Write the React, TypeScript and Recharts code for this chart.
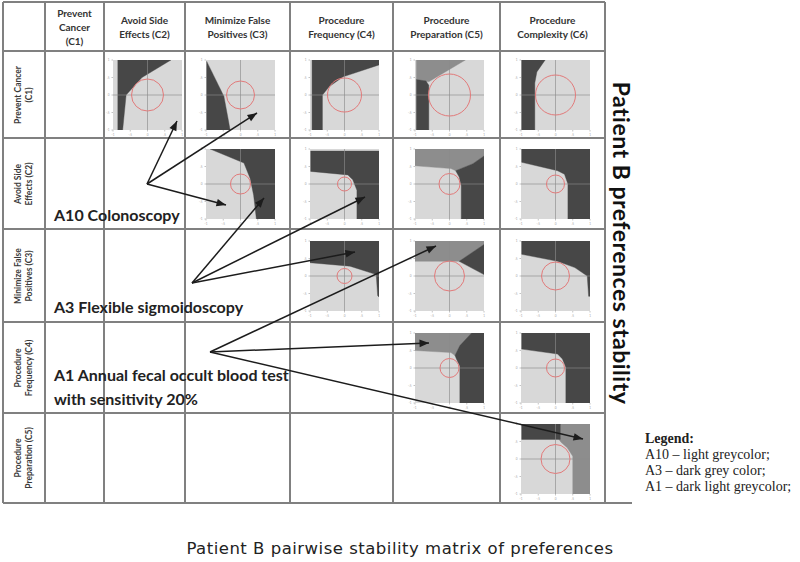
import React from 'react';
import { ComposedChart, Scatter, XAxis, YAxis } from 'recharts';

// ---------- table structure ----------
const colHeaders: string[][] = [
  ['Prevent', 'Cancer', '(C1)'],
  ['Avoid Side', 'Effects (C2)'],
  ['Minimize False', 'Positives (C3)'],
  ['Procedure', 'Frequency (C4)'],
  ['Procedure', 'Preparation (C5)'],
  ['Procedure', 'Complexity (C6)'],
];
const rowHeaders: string[][] = [
  ['Prevent Cancer', '(C1)'],
  ['Avoid Side', 'Effects (C2)'],
  ['Minimize False', 'Positives (C3)'],
  ['Procedure', 'Frequency (C4)'],
  ['Procedure', 'Preparation (C5)'],
];
const colX = [3, 45, 104, 185, 290, 393, 500, 605];
const rowY = [2, 51, 138, 229, 322, 413, 503];

// ---------- small stability plots (x,y in 0..100) ----------
const axisTicks = [0, 25, 50, 75, 100];
const axisTickLabels = ['-1', '-.5', '0', '.5', '1'];
const plotFrame: number[][] = [[0, 0], [0, 100], [100, 100], [100, 0]];
const crossV: number[][] = [[50, 0], [50, 100]];
const crossH: number[][] = [[0, 50], [100, 50]];
const centre: number[][] = [[50, 50]];

const c1c2A3 = [[7, 0], [7, 100], [84, 100], [42, 75], [19, 50], [14, 0]];
const c1c3A3 = [[1, 98], [26, 48], [35, 0], [1, 0]];
const c1c4A3 = [[3, 0], [3, 100], [100, 100], [100, 93], [48, 76], [28, 62], [18, 50], [18, 0]];
const c1c5A1 = [[2, 100], [73, 100], [20, 69], [2, 72]];
const c1c5A3 = [[2, 72], [16, 70], [20, 64], [20, 0], [2, 0]];
const c1c6A3 = [[1, 0], [1, 100], [35, 100], [23, 83], [20, 67], [20, 0]];
const c2c3A3 = [[6, 100], [100, 100], [100, 0], [73, 0], [69, 34], [64, 58], [55, 80]];
const c2c4A3 = [[1, 97], [100, 97], [100, 0], [68, 0], [68, 41], [62, 56], [55, 63], [1, 68]];
const c2c5A1 = [[0, 100], [100, 100], [100, 90], [84, 79], [59, 69], [52, 72], [0, 76]];
const c2c5A3 = [[59, 69], [84, 79], [100, 90], [100, 0], [67, 0], [67, 48], [64, 60]];
const c2c6A3 = [[1, 100], [100, 100], [100, 0], [68, 0], [68, 50], [63, 64], [53, 69], [1, 81]];
const c3c4A3 = [[0, 100], [100, 100], [100, 20], [98, 22], [96, 52], [58, 64], [0, 69]];
const c3c5A1 = [[0, 100], [100, 100], [100, 95], [64, 71], [0, 71]];
const c3c5A3 = [[64, 71], [100, 95], [100, 52]];
const c3c6A3 = [[1, 100], [100, 100], [100, 21], [98, 21], [96, 50], [78, 62], [53, 71], [1, 81]];
const c4c5A1 = [[0, 100], [82, 100], [65, 82], [58, 68], [52, 72], [0, 75]];
const c4c5A3 = [[82, 100], [100, 100], [100, 0], [65, 0], [65, 53], [60, 63], [58, 68], [65, 82]];
const c4c6A3 = [[1, 100], [100, 100], [100, 0], [65, 0], [65, 51], [60, 63], [53, 70], [1, 77]];
const c5c6A3 = [[1, 100], [57, 100], [57, 78], [1, 78]];
const c5c6A1 = [[57, 100], [100, 100], [100, 0], [75, 0], [75, 54], [67, 66], [58, 74], [55, 78], [57, 78]];

// cell positions and circle radius (px) for each cell
const cellRow = [0, 0, 0, 0, 0, 1, 1, 1, 1, 2, 2, 2, 3, 3, 4];
const cellCol = [1, 2, 3, 4, 5, 2, 3, 4, 5, 3, 4, 5, 4, 5, 5];
const cellRadius = [16, 14, 17, 21, 20, 10, 7, 10.5, 9, 7.5, 15, 14, 9.5, 9, 14.5];
const cellA3 = [c1c2A3, c1c3A3, c1c4A3, c1c5A3, c1c6A3, c2c3A3, c2c4A3, c2c5A3, c2c6A3, c3c4A3, c3c5A3, c3c6A3, c4c5A3, c4c6A3, c5c6A3];
const cellA1 = [null, null, null, c1c5A1, null, null, null, c2c5A1, null, null, c3c5A1, null, c4c5A1, null, c5c6A1];

// ---------- annotation arrows (page pixels) ----------
const a10From = [147, 184];
const a10To = [[177, 121], [257, 113], [226, 205]];
const a3From = [192, 283];
const a3To = [[264, 198], [365, 197], [355, 252]];
const a1From = [210, 352];
const a1To = [[436, 246], [429, 343], [583, 439]];

const legendLines = ['A10 \u2013 light greycolor;', 'A3 \u2013 dark grey color;', 'A1 \u2013 dark light greycolor;'];

const LIGHT = '#d8d8d8';
const DARK = '#474747';
const MEDIUM = '#8d8d8d';
const FONT = 'Lato, "Open Sans", sans-serif';

const pts = (a: number[][], close = false) => {
  const p = a.map(([x, y]) => ({ x, y }));
  if (close && p.length) p.push({ ...p[0] });
  return p;
};
const NoShape = () => <g />;

function Cell({ i }: { i: number }) {
  const r = cellRow[i];
  const c = cellCol[i];
  const x0 = colX[c + 1], x1 = colX[c + 2];
  const y0 = rowY[r + 1], y1 = rowY[r + 2];
  const pcx = (x0 + x1) / 2 + 2.5;
  const pcy = (y0 + y1) / 2 + 0.5;
  const left = pcx - 34.5 - 8;
  const top = pcy - 35 - 2;
  const rad = cellRadius[i];
  const a1 = cellA1[i];
  const polyLine = (color: string) => ({ fill: color, stroke: color, strokeWidth: 0.4 });
  return (
    <div style={{ position: 'absolute', left, top }}>
      <ComposedChart width={79} height={79} margin={{ top: 2, right: 2, bottom: 0, left: 0 }}>
        <XAxis
          type="number"
          dataKey="x"
          domain={[0, 100]}
          ticks={axisTicks}
          tickFormatter={(v: number) => axisTickLabels[axisTicks.indexOf(v)]}
          allowDataOverflow
          height={7}
          axisLine={false}
          tickSize={1.5}
          tickLine={{ stroke: '#c4c4c4' }}
          tick={{ fontSize: 3, fill: '#a0a0a0' }}
          interval={0}
        />
        <YAxis
          type="number"
          dataKey="y"
          domain={[0, 100]}
          ticks={axisTicks}
          tickFormatter={(v: number) => axisTickLabels[axisTicks.indexOf(v)]}
          allowDataOverflow
          width={8}
          axisLine={false}
          tickSize={1.5}
          tickLine={{ stroke: '#c4c4c4' }}
          tick={{ fontSize: 3, fill: '#a0a0a0' }}
          interval={0}
        />
        <Scatter data={pts(plotFrame, true)} fill={LIGHT} line={polyLine(LIGHT)} shape={NoShape} isAnimationActive={false} />
        {a1 && <Scatter data={pts(a1, true)} fill={MEDIUM} line={polyLine(MEDIUM)} shape={NoShape} isAnimationActive={false} />}
        <Scatter data={pts(cellA3[i], true)} fill={DARK} line={polyLine(DARK)} shape={NoShape} isAnimationActive={false} />
        <Scatter data={pts(crossV)} fill="#8a8a8a" line={{ stroke: '#8a8a8a', strokeWidth: 0.8, strokeOpacity: 0.8 }} shape={NoShape} isAnimationActive={false} />
        <Scatter data={pts(crossH)} fill="#8a8a8a" line={{ stroke: '#8a8a8a', strokeWidth: 0.8, strokeOpacity: 0.8 }} shape={NoShape} isAnimationActive={false} />
        <Scatter
          data={pts(centre)}
          isAnimationActive={false}
          shape={(p: any) => <circle cx={p.cx} cy={p.cy} r={rad} fill="none" stroke="#e27a7a" strokeWidth={1} />}
        />
      </ComposedChart>
    </div>
  );
}

const ArrowHead = (p: any) => {
  const a = p.payload.angle;
  const L = 9.5, W = 3.8;
  const tx = p.cx, ty = p.cy;
  const bx = tx - L * Math.cos(a), by = ty - L * Math.sin(a);
  const nx = -Math.sin(a) * W, ny = Math.cos(a) * W;
  return <polygon points={`${tx},${ty} ${bx + nx},${by + ny} ${bx - nx},${by - ny}`} fill="#1c1c1c" />;
};

function Overlay() {
  const arrows: { from: number[]; to: number[] }[] = [];
  a10To.forEach((t) => arrows.push({ from: a10From, to: t }));
  a3To.forEach((t) => arrows.push({ from: a3From, to: t }));
  a1To.forEach((t) => arrows.push({ from: a1From, to: t }));
  return (
    <div style={{ position: 'absolute', left: 0, top: 0, pointerEvents: 'none' }}>
      <ComposedChart width={800} height={562} margin={{ top: 0, right: 0, bottom: 0, left: 0 }}>
        <XAxis type="number" dataKey="x" domain={[0, 800]} hide allowDataOverflow />
        <YAxis type="number" dataKey="y" domain={[0, 562]} reversed hide allowDataOverflow />
        {arrows.map((a, k) => (
          <Scatter
            key={'l' + k}
            data={[{ x: a.from[0], y: a.from[1] }, { x: a.to[0], y: a.to[1] }]}
            fill="#1c1c1c"
            line={{ stroke: '#1c1c1c', strokeWidth: 1.5 }}
            shape={NoShape}
            isAnimationActive={false}
          />
        ))}
        {arrows.map((a, k) => (
          <Scatter
            key={'h' + k}
            data={[{ x: a.to[0], y: a.to[1], angle: Math.atan2(a.to[1] - a.from[1], a.to[0] - a.from[0]) }]}
            shape={ArrowHead}
            isAnimationActive={false}
          />
        ))}
      </ComposedChart>
    </div>
  );
}

export default function App() {
  const lineColor = '#808080';
  const lines: React.ReactNode[] = [];
  colX.forEach((x, k) =>
    lines.push(
      <div key={'v' + k} style={{ position: 'absolute', left: x - 0.75, top: rowY[0], width: 1.5, height: rowY[rowY.length - 1] - rowY[0], background: lineColor }} />
    )
  );
  rowY.forEach((y, k) =>
    lines.push(
      <div
        key={'h' + k}
        style={{
          position: 'absolute',
          left: colX[0],
          top: y - 0.75,
          width: (k === rowY.length - 1 ? 632 : colX[colX.length - 1]) - colX[0],
          height: 1.5,
          background: lineColor,
        }}
      />
    )
  );

  return (
    <div style={{ position: 'absolute', left: 0, top: 0, width: 800, height: 562, background: '#fff', overflow: 'hidden', fontFamily: FONT }}>
      {lines}
      {colHeaders.map((h, j) => {
        const x0 = colX[j + 1], x1 = colX[j + 2];
        return (
          <div
            key={'ch' + j}
            style={{
              position: 'absolute',
              left: x0,
              width: x1 - x0,
              top: (rowY[0] + rowY[1]) / 2,
              transform: 'translateY(-50%)',
              textAlign: 'center',
              fontSize: 10,
              fontWeight: 700,
              lineHeight: '14px',
              color: '#333',
            }}
          >
            {h.map((t, k) => (
              <div key={k}>{t}</div>
            ))}
          </div>
        );
      })}
      {rowHeaders.map((h, i) => {
        const y0 = rowY[i + 1], y1 = rowY[i + 2];
        const cx = (colX[0] + colX[1]) / 2;
        const cy = (y0 + y1) / 2;
        return (
          <div
            key={'rh' + i}
            style={{
              position: 'absolute',
              left: cx,
              top: cy,
              width: y1 - y0,
              transform: 'translate(-50%, -50%) rotate(-90deg)',
              textAlign: 'center',
              fontSize: 8.5,
              fontWeight: 700,
              lineHeight: '11px',
              color: '#3a3a3a',
            }}
          >
            {h.map((t, k) => (
              <div key={k}>{t}</div>
            ))}
          </div>
        );
      })}
      {cellRow.map((_, i) => (
        <Cell key={'c' + i} i={i} />
      ))}
      <div style={{ position: 'absolute', left: 54, top: 205, fontSize: 16, fontWeight: 700, color: '#222', whiteSpace: 'nowrap' }}>A10 Colonoscopy</div>
      <div style={{ position: 'absolute', left: 54, top: 297, fontSize: 16, fontWeight: 700, color: '#222', whiteSpace: 'nowrap' }}>A3 Flexible sigmoidoscopy</div>
      <div style={{ position: 'absolute', left: 54, top: 363, fontSize: 16, fontWeight: 700, color: '#222', whiteSpace: 'nowrap', lineHeight: '24px' }}>
        <div>A1 Annual fecal occult blood test</div>
        <div>with sensitivity 20%</div>
      </div>
      <div
        style={{
          position: 'absolute',
          left: 622,
          top: 243,
          transform: 'translate(-50%, -50%) rotate(90deg)',
          whiteSpace: 'nowrap',
          fontSize: 23,
          letterSpacing: 0.5,
          fontWeight: 700,
          color: '#111',
        }}
      >
        Patient B preferences stability
      </div>
      <div style={{ position: 'absolute', left: 645, top: 431, fontFamily: '"Liberation Serif", serif', fontSize: 14, lineHeight: '16px', color: '#222', whiteSpace: 'nowrap' }}>
        <div style={{ fontWeight: 700 }}>Legend:</div>
        {legendLines.map((t, k) => (
          <div key={k}>{t}</div>
        ))}
      </div>
      <div
        style={{
          position: 'absolute',
          left: 0,
          width: 800,
          top: 539,
          textAlign: 'center',
          fontFamily: '"DejaVu Sans", sans-serif',
          fontSize: 16.5,
          letterSpacing: 0.5,
          color: '#222',
        }}
      >
        Patient B pairwise stability matrix of preferences
      </div>
      <Overlay />
    </div>
  );
}
